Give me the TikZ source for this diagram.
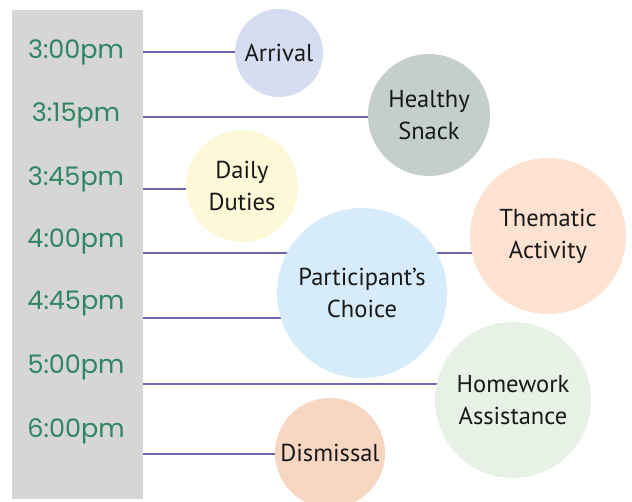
\documentclass[tikz,border=0pt]{standalone}
\usepackage{fontspec}
\setmainfont{PT Sans}
\newfontfamily\timefont{Poppins}
\usetikzlibrary{backgrounds}
\definecolor{bargray}{RGB}{214,214,214}
\definecolor{timegreen}{RGB}{46,134,98}
\definecolor{linepurple}{RGB}{110,100,176}
\definecolor{cArrival}{RGB}{214,221,240}
\definecolor{cSnack}{RGB}{197,207,201}
\definecolor{cDuties}{RGB}{253,248,216}
\definecolor{cThematic}{RGB}{253,226,210}
\definecolor{cChoice}{RGB}{214,236,250}
\definecolor{cHomework}{RGB}{232,241,230}
\definecolor{cDismissal}{RGB}{247,214,194}
\tikzset{
  timelabel/.style={font=\timefont\fontsize{25.5}{25.5}\selectfont, text=timegreen, anchor=center, inner sep=0pt},
  activity/.style={circle, inner sep=0pt, minimum size=#1, font=\fontsize{24.5}{32}\selectfont, align=center, text=black!90},
  tline/.style={draw=linepurple, line width=1.4pt}
}
\begin{document}
\begin{tikzpicture}[x=1pt,y=-1pt]
\useasboundingbox (0,0) rectangle (632,502);
\fill[bargray] (12,10) rectangle (143,499);
% time labels
\node[timelabel] (t1) at (76,52) {3:00pm};
\node[timelabel] (t2) at (76,115) {3:15pm};
\node[timelabel] (t3) at (76,179) {3:45pm};
\node[timelabel] (t4) at (76,241) {4:00pm};
\node[timelabel] (t5) at (76,304) {4:45pm};
\node[timelabel] (t6) at (76,367) {5:00pm};
\node[timelabel] (t7) at (76,431) {6:00pm};
% line starts
\coordinate (s1) at (143,52);
\coordinate (s2) at (143,117);
\coordinate (s3) at (143,189);
\coordinate (s4) at (143,253);
\coordinate (s5) at (143,318);
\coordinate (s6) at (143,384);
\coordinate (s7) at (143,454);
% circles
\node[activity=88pt, fill=cArrival] (arrival) at (279,53) {Arrival};
\node[activity=122pt, fill=cSnack] (snack) at (429,115) {Healthy\\Snack};
\node[activity=112pt, fill=cDuties] (duties) at (242,186) {Daily\\Duties};
\node[activity=156pt, fill=cThematic] (thematic) at (548,236) {Thematic\\Activity};
\node[activity=170pt, fill=cChoice] (choice) at (362,293) {Participant’s\\Choice};
\node[activity=156pt, fill=cHomework] (homework) at (513,400) {Homework\\Assistance};
\node[activity=110pt, fill=cDismissal] (dismissal) at (330,453) {Dismissal};
\begin{scope}[on background layer]
\draw[tline] (s1) -- (s1 -| arrival.center);
\draw[tline] (s2) -- (s2 -| snack.center);
\draw[tline] (s3) -- (s3 -| duties.center);
\draw[tline] (s4) -- (s4 -| thematic.center);
\draw[tline] (s5) -- (s5 -| choice.center);
\draw[tline] (s6) -- (s6 -| homework.center);
\draw[tline] (s7) -- (s7 -| dismissal.center);
\end{scope}
\end{tikzpicture}
\end{document}
